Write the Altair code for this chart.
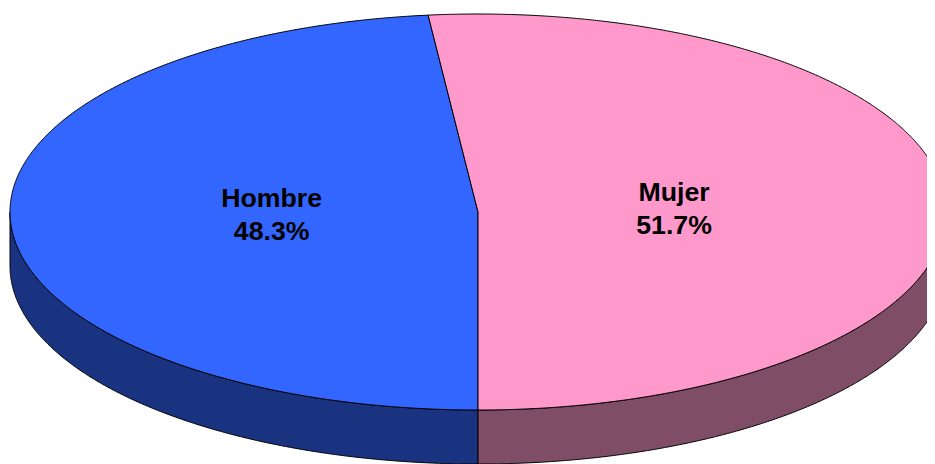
import math
import altair as alt
import pandas as pd

categories = ["Hombre", "Mujer"]
shares = [48.3, 51.7]
top_colors = ["#3366FF", "#FF99CC"]
side_colors = ["#1A3380", "#804D66"]
label_x = [-0.441, 0.419]
label_y = [0.064, 0.094]

depth = 54 / 198
x_domain = [(8 - 478) / 468, (927 - 478) / 468]
y_domain = [(212 - 464) / 198, (212 - 8) / 198]

# the pie starts at the front and each slice's sweep comes from its share
hombre_end = 180 + 360 * shares[0] / 100
spans = {"Hombre": (180, hombre_end), "Mujer": (hombre_end - 360, 180)}


def rim(a, b):
    n = max(2, int(abs(b - a) * 4))
    return [(a + (b - a) * i / n) for i in range(n + 1)]


def pt(t, drop=0.0):
    r = math.radians(t)
    return math.sin(r), math.cos(r) - drop


rows = []


def add(name, pts):
    for i, (x, y) in enumerate(pts):
        rows.append({"shape": name, "i": i, "x": x, "y": y})


add("Hombre top", [(0.0, 0.0)] + [pt(t) for t in rim(*spans["Hombre"])] + [(0.0, 0.0)])
add("Mujer top", [(0.0, 0.0)] + [pt(t) for t in rim(*spans["Mujer"])] + [(0.0, 0.0)])
h = rim(180, 270)
add("Hombre side", [pt(t) for t in h] + [pt(t, depth) for t in reversed(h)] + [pt(180)])
m = rim(90, 180)
add("Mujer side", [pt(t) for t in m] + [pt(t, depth) for t in reversed(m)] + [pt(90)])
df = pd.DataFrame(rows)

xs = alt.X("x:Q", scale=alt.Scale(domain=x_domain, nice=False, zero=False), axis=None)
ys = alt.Y("y:Q", scale=alt.Scale(domain=y_domain, nice=False, zero=False), axis=None)


def face(name, color):
    return (
        alt.Chart(df[df["shape"] == name])
        .mark_line(fill=color, stroke="#000000", strokeWidth=1, clip=True, interpolate="linear")
        .encode(x=xs, y=ys, order="i:Q")
    )


labels = pd.DataFrame(
    {
        "x": label_x,
        "y": label_y,
        "text": [f"{c}\n{s}%" for c, s in zip(categories, shares)],
    }
)
text = (
    alt.Chart(labels)
    .mark_text(
        font="Liberation Sans",
        fontWeight="bold",
        fontSize=26.7,
        color="#000000",
        lineBreak="\n",
        lineHeight=33,
        baseline="middle",
    )
    .encode(x=xs, y=ys, text="text:N")
)

chart = (
    alt.layer(
        face("Hombre side", side_colors[0]),
        face("Mujer side", side_colors[1]),
        face("Hombre top", top_colors[0]),
        face("Mujer top", top_colors[1]),
        text,
    )
    .properties(
        width=919,
        height=456,
        padding=0,
        background="#FFFFFF",
        autosize=alt.AutoSizeParams(type="none"),
    )
    .configure_view(stroke=None)
)

chart.save("out.html", embed_options={"renderer": "svg", "actions": False})
